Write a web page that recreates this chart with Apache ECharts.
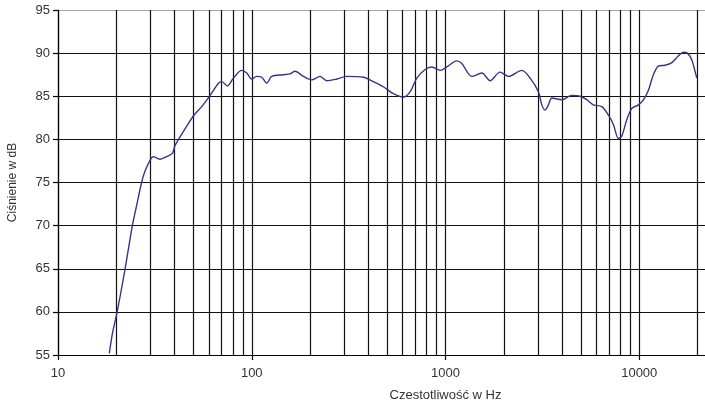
<!DOCTYPE html>
<html>
<head>
<meta charset="utf-8">
<script src="https://cdn.jsdelivr.net/npm/echarts@6/dist/echarts.min.js"></script>
<style>
  html, body { margin: 0; padding: 0; background: #fff; }
  #chart { width: 705px; height: 401px; }
</style>
</head>
<body>
<div id="chart"></div>
<script>
// frequency response
const freqs = [18.4, 19.1, 20.2, 22.2, 24.2, 25.5, 27.0, 28.1, 29.9, 31.0, 33.6, 36.4, 39.0, 40.2, 46.1, 50.3, 55.2, 61.0, 67.3, 70.0,
  74.8, 80.4, 88.7, 94.2, 100, 106, 112.7, 119.5, 126.7, 145.5, 157.6, 167.4, 184.7, 204, 225, 244, 275, 309, 377, 424,
  478, 538, 607, 656, 711, 785, 850, 938, 1016, 1143, 1214, 1367, 1540, 1700, 1913, 2112, 2476, 2735, 3020, 3141,
  3267, 3398, 3538, 3983, 4483, 4955, 5360, 5800, 6410, 6940, 7360, 7810, 8130, 8630, 9160, 9910, 10520, 11150, 11830, 12550,
  13600, 14730, 15940, 16900, 17720, 18680, 19450, 19820]
const spl = [55.2, 57.5, 60.0, 65.0, 70.0, 72.4, 75.0, 76.3, 77.6, 78.0, 77.7, 78.0, 78.4, 79.3, 81.5, 82.8, 83.8, 85.1, 86.5, 86.7,
  86.2, 87.1, 88.0, 87.7, 87.0, 87.3, 87.2, 86.5, 87.3, 87.5, 87.6, 87.9, 87.3, 86.9, 87.3, 86.8, 87.0, 87.3, 87.2, 86.7,
  86.1, 85.3, 84.9, 85.5, 87.1, 88.1, 88.4, 88.0, 88.4, 89.1, 88.8, 87.3, 87.7, 86.8, 87.8, 87.3, 88.0, 87.1, 85.5, 84.0,
  83.4, 84.0, 84.8, 84.6, 85.1, 85.0, 84.6, 84.0, 83.8, 82.8, 81.7, 80.1, 80.4, 82.3, 83.6, 84.0, 84.6, 85.7, 87.5, 88.5,
  88.6, 88.9, 89.7, 90.1, 90.0, 89.2, 87.8, 87.1]

// vertical grid lines between decades
const minorFreqs = [20, 30, 40, 50, 60, 70, 80, 90, 200, 300, 400, 500, 600, 700, 800, 900,
  2000, 3000, 4000, 5000, 6000, 7000, 8000, 9000, 20000, 30000, 40000, 50000, 60000, 70000, 80000, 90000]

const chart = echarts.init(document.getElementById('chart'))
const font = { fontFamily: 'Liberation Sans, Arial, sans-serif', color: '#333' }

chart.setOption({
  animation: false,
  // the original plot runs to 100 kHz and is cut off at the right edge
  grid: { left: 58, right: -128, top: 10, bottom: 46, outerBoundsMode: 'none', containLabel: false },
  xAxis: {
    type: 'log', logBase: 10, min: 10, max: 100000,
    name: 'Czestotliwość w Hz', nameLocation: 'middle', nameGap: 34,
    nameTextStyle: { ...font, fontSize: 13 },
    axisLine: { lineStyle: { color: '#000', width: 1.2 } },
    axisTick: { show: true, length: 5, lineStyle: { color: '#000', width: 1.2 } },
    axisLabel: { ...font, fontSize: 13, margin: 12, formatter: v => String(Math.round(v)) },
    splitLine: { show: true, lineStyle: { color: '#111', width: 1.2 } },
    minorTick: { show: false }, minorSplitLine: { show: false }
  },
  yAxis: {
    type: 'value', min: 55, max: 95, interval: 5,
    name: 'Ciśnienie w dB', nameLocation: 'middle', nameGap: 39,
    nameTextStyle: { ...font, fontSize: 12 },
    axisLine: { show: true, lineStyle: { color: '#000', width: 1.2 } },
    axisTick: { show: true, length: 5, lineStyle: { color: '#000', width: 1.2 } },
    axisLabel: { ...font, fontSize: 13, margin: 8 },
    splitLine: { lineStyle: { width: 1.2,
      color: ['#111', '#111', '#111', '#111', '#111', '#111', '#111', '#111', '#a8a8a8'] } }
  },
  series: [
    {
      type: 'line', data: [], z: 1, silent: true,
      markLine: {
        silent: true, symbol: ['none', 'none'], label: { show: false },
        lineStyle: { color: '#111', width: 1.2, type: 'solid' },
        emphasis: { disabled: true },
        data: minorFreqs.map(f => ({ xAxis: f }))
      }
    },
    {
      type: 'line', z: 5, symbol: 'none', smooth: 0.3,
      data: freqs.map((f, i) => [f, spl[i]]),
      lineStyle: { color: '#35358a', width: 1.4 }
    }
  ]
})
</script>
</body>
</html>
